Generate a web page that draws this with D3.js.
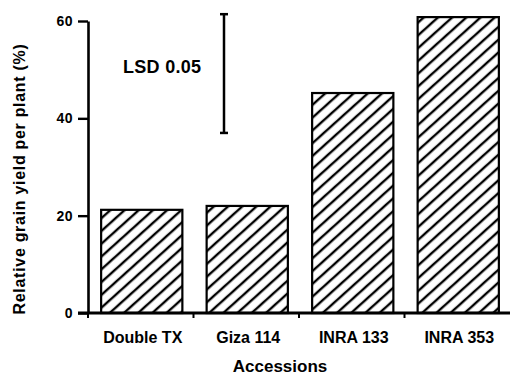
<!DOCTYPE html>
<html>
<head>
<meta charset="utf-8">
<script src="https://cdn.jsdelivr.net/npm/d3@7"></script>
<style>
  body { margin: 0; background: #fff; }
  svg { display: block; }
  text { font-family: "Liberation Sans", Arial, Helvetica, sans-serif; font-weight: bold; fill: #000; }
</style>
</head>
<body>
<div id="chart"></div>
<script>
var w = 510;
var h = 375;

var accessions = ["Double TX", "Giza 114", "INRA 133", "INRA 353"];
var yieldValues = [21.2, 22.0, 45.2, 60.8];
var yTicks = [0, 20, 40, 60];
var lsdLabel = "LSD 0.05";
var lsdRange = [37, 61.4];

var padLeft = 88, padRight = 510, padTop = 21, padBottom = 313;

var xScale = d3.scaleBand()
               .domain(accessions)
               .range([padLeft, padRight])
               .padding(0);

var yScale = d3.scaleLinear()
               .domain([0, 60])
               .range([padBottom, padTop]);

var svg = d3.select("#chart")
            .append("svg")
            .attr("width", w)
            .attr("height", h);

// hatch fill
var pat = svg.append("defs")
   .append("pattern")
   .attr("id", "hatch")
   .attr("patternUnits", "userSpaceOnUse")
   .attr("width", 9.5)
   .attr("height", 20)
   .attr("patternTransform", "rotate(48)");
pat.append("rect").attr("width", 9.5).attr("height", 20).attr("fill", "#fff");
pat.append("line")
   .attr("x1", 2).attr("y1", 0)
   .attr("x2", 2).attr("y2", 20)
   .attr("stroke", "#000")
   .attr("stroke-width", 2.4);

var barW = xScale.bandwidth() * 0.77;

svg.append("g")
   .selectAll("rect")
   .data(accessions)
   .enter()
   .append("rect")
   .attr("x", function(d) { return xScale(d) + (xScale.bandwidth() - barW) / 2 + 1; })
   .attr("y", function(d, i) { return yScale(yieldValues[i]); })
   .attr("width", barW)
   .attr("height", function(d, i) { return yScale(0) - yScale(yieldValues[i]); })
   .attr("fill", "url(#hatch)")
   .attr("stroke", "#000")
   .attr("stroke-width", 2.2);

// y axis
var yAxis = d3.axisLeft()
              .scale(yScale)
              .tickValues(yTicks)
              .tickSize(10)
              .tickSizeOuter(0)
              .tickPadding(5);

var gy = svg.append("g")
   .attr("class", "y axis")
   .attr("transform", "translate(" + padLeft + ",0)")
   .call(yAxis);
gy.select(".domain").attr("stroke-width", 2.6);
gy.selectAll(".tick line").attr("stroke-width", 2.4);
gy.selectAll("text")
  .style("font-size", "14px")
  .style("letter-spacing", "0.5px")
  .style("font-family", "'Liberation Sans', Arial, sans-serif")
  .style("font-weight", "bold");

// x axis line with ticks at category boundaries
svg.append("line")
   .attr("x1", padLeft - 10).attr("x2", padRight)
   .attr("y1", padBottom).attr("y2", padBottom)
   .attr("stroke", "#000")
   .attr("stroke-width", 2.8);

svg.append("g")
   .selectAll("line")
   .data(accessions)
   .enter()
   .append("line")
   .attr("x1", function(d) { return xScale(d); })
   .attr("x2", function(d) { return xScale(d); })
   .attr("y1", padBottom)
   .attr("y2", padBottom + 5)
   .attr("stroke", "#000")
   .attr("stroke-width", 2);

svg.append("g")
   .selectAll("text")
   .data(accessions)
   .enter()
   .append("text")
   .attr("x", function(d) { return xScale(d) + xScale.bandwidth() / 2 + 2; })
   .attr("y", 343)
   .attr("text-anchor", "middle")
   .style("font-size", "16px")
   .text(function(d) { return d; });

svg.append("text")
   .attr("x", 280)
   .attr("y", 372)
   .attr("text-anchor", "middle")
   .style("font-size", "17px")
   .text("Accessions");

svg.append("text")
   .attr("transform", "translate(25," + 179 + ") rotate(-90)")
   .attr("text-anchor", "middle")
   .style("font-size", "16px")
   .style("letter-spacing", "0.7px")
   .text("Relative grain yield per plant (%)");

// LSD bar
var lsdX = 224;
var lsd = svg.append("g").attr("stroke", "#000");
lsd.append("line")
   .attr("x1", lsdX).attr("x2", lsdX)
   .attr("y1", yScale(lsdRange[0])).attr("y2", yScale(lsdRange[1]))
   .attr("stroke-width", 2.5);
lsd.selectAll(".cap")
   .data(lsdRange)
   .enter()
   .append("line")
   .attr("class", "cap")
   .attr("x1", lsdX - 4).attr("x2", lsdX + 4)
   .attr("y1", function(d) { return yScale(d); })
   .attr("y2", function(d) { return yScale(d); })
   .attr("stroke-width", 2.5);

svg.append("text")
   .attr("x", 123)
   .attr("y", 73)
   .style("font-size", "18px")
   .style("letter-spacing", "0.3px")
   .text(lsdLabel);
</script>
</body>
</html>
